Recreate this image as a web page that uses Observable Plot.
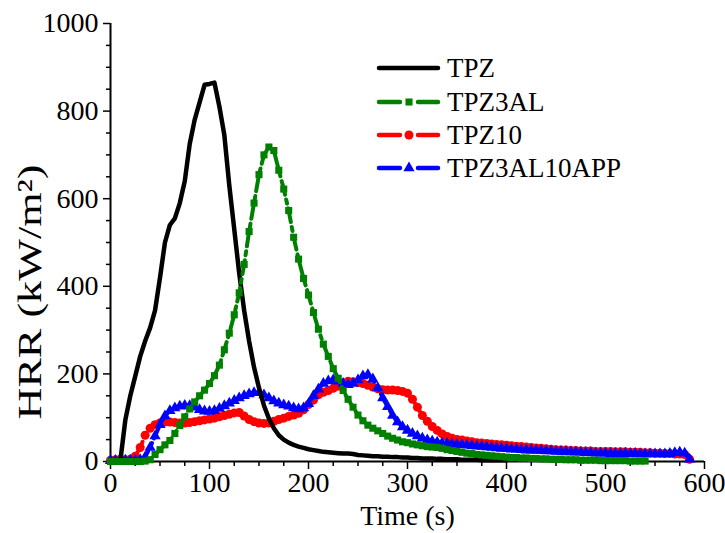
<!DOCTYPE html>
<html><head><meta charset="utf-8">
<script src="https://cdn.jsdelivr.net/npm/d3@7"></script>
<script src="https://cdn.jsdelivr.net/npm/@observablehq/plot@0.6"></script>
<style>body{margin:0;background:#fff}</style>
</head><body><div id="chart"></div>
<script>
const time = [0,5,10,15,20,25,30,35,40,45,50,55,60,65,70,75,80,85,90,95,
100,105,110,115,120,125,130,135,140,145,150,155,160,165,170,175,180,185,190,195,
200,205,210,215,220,225,230,235,240,245,250,255,260,265,270,275,280,285,290,295,
300,305,310,315,320,325,330,335,340,345,350,355,360,365,370,375,380,385,390,395,
400,405,410,415,420,425,430,435,440,445,450,455,460,465,470,475,480,485,490,495,
500,505,510,515,520,525,530,535,540,545,550,555,560,565,570,575,580,585,590];

const TPZ = [0,0,3,95,150,195,240,275,305,345,420,500,540,555,590,640,725,780,820,860,
862,865,810,745,630,530,430,345,275,215,168,128,98,76,60,50,43,38,34,31,
28,26,24,22,21,20,19,18,18,17,15,14,13,12,12,11,11,10,10,9,
9,8,8,7,7,7,6,6,5,5,5,4,4,4,4,3,3,3,3,3,3];

const TPZ3AL = [0,0,0,0,0,0,0,1,4,16,27,38,48,64,82,102,120,136,150,163,
178,196,220,255,293,335,385,450,525,590,655,700,718,710,665,622,573,512,462,418,
380,340,302,268,240,212,190,162,142,124,106,93,83,76,70,64,58,53,49,45,
43,40,38,36,34,33,32,30,27,25,23,21,19,18,16,15,14,13,12,11,
10,9,9,8,8,7,7,6,6,5,5,5,4,4,4,3,3,3,3,2,
2,2,2,2,2,1,1,1,1];

const TPZ10 = [3,4,5,4,5,12,32,60,76,84,88,90,90,89,88,88,89,91,93,95,
97,99,102,105,108,111,112,104,96,91,88,87,88,92,96,99,103,106,110,118,
130,140,152,158,162,167,172,180,183,182,180,178,174,170,166,164,163,163,162,160,
156,142,124,105,92,80,71,63,57,53,50,49,47,45,43,42,41,40,39,38,
37,36,35,34,33,32,31,30,29,28,27,26,26,25,25,24,24,24,23,23,
23,23,22,22,22,21,21,21,20,20,19,19,18,18,17,17,16,5];

const TPZ3AL10APP = [2,2,2,3,3,3,4,10,32,58,84,104,116,122,126,128,127,124,118,115,
114,116,121,127,133,139,145,150,154,157,157,152,145,138,133,129,126,122,120,122,
132,150,165,178,184,186,183,178,175,178,186,195,198,188,168,145,125,105,90,79,
71,64,58,53,49,46,44,42,41,40,39,38,37,36,35,34,33,32,31,30,
29,28,28,27,26,26,25,25,24,24,23,23,22,22,21,21,20,20,19,19,
19,18,18,18,18,18,18,17,17,17,17,17,17,18,20,21,19,5];

const xMajor = [0,100,200,300,400,500,600];
const xMinor = [25,50,75,125,150,175,225,250,275,325,350,375,425,450,475,525,550,575];
const yMajor = [0,200,400,600,800,1000];
const yMinor = [50,100,150,250,300,350,450,500,550,650,700,750,850,900,950];

const names = ["TPZ","TPZ3AL","TPZ10","TPZ3AL10APP"];
const colors = ["#000000","#008000","#ff0000","#0000ff"];
const yTitle = "HRR (kW/m²)";

const rows = vals => vals.map((v, i) => ({t: time[i], v}));
const dTPZ = rows(TPZ), dAL = rows(TPZ3AL), dT10 = rows(TPZ10), dAPP = rows(TPZ3AL10APP);
const dash = "14,5,4,5";
const serif = "'Liberation Serif', 'Times New Roman', serif";

const chart = Plot.plot({
  width: 725, height: 533,
  marginLeft: 110, marginRight: 21, marginTop: 23, marginBottom: 72,
  style: {fontFamily: serif, fontSize: "28px", background: "white", color: "black"},
  x: {domain: [0, 600]},
  y: {domain: [0, 1000]},
  marks: [
    Plot.axisX({ticks: xMinor, tickSize: 5, text: null, label: null, strokeWidth: 1.5}),
    Plot.axisX({ticks: xMajor, tickSize: 8, tickPadding: 3, tickFormat: d => String(d), fontSize: 28,
      label: "Time (s)", labelAnchor: "center", labelArrow: "none", labelOffset: 63, strokeWidth: 1.5}),
    Plot.axisY({ticks: yMinor, tickSize: 4, text: null, label: null, strokeWidth: 1.5}),
    Plot.axisY({ticks: yMajor, tickSize: 7, tickPadding: 5, tickFormat: d => String(d), fontSize: 28,
      label: null, strokeWidth: 1.5}),
    Plot.ruleX([0], {strokeWidth: 2}),
    Plot.ruleY([0], {strokeWidth: 2}),
    Plot.line(dT10, {x: "t", y: "v", stroke: colors[2], strokeWidth: 4, strokeDasharray: dash}),
    Plot.dot(dT10, {x: "t", y: "v", fill: colors[2], r: 4.5, symbol: "circle"}),
    Plot.line(dAPP, {x: "t", y: "v", stroke: colors[3], strokeWidth: 4, strokeDasharray: dash}),
    Plot.dot(dAPP, {x: "t", y: "v", fill: colors[3], r: 4.2, symbol: "triangle"}),
    Plot.line(dTPZ, {x: "t", y: "v", stroke: colors[0], strokeWidth: 4.5}),
    Plot.line(dAL, {x: "t", y: "v", stroke: colors[1], strokeWidth: 4, strokeDasharray: dash}),
    Plot.dot(dAL, {x: "t", y: "v", fill: colors[1], r: 4, symbol: "square"})
  ]
});

const svg = d3.select(chart);

// Y-axis title
svg.append("text")
  .attr("transform", "translate(41,292) rotate(-90)")
  .attr("text-anchor", "middle")
  .attr("font-family", serif).attr("font-size", 33)
  .attr("textLength", 255).attr("lengthAdjust", "spacingAndGlyphs")
  .attr("fill", "black")
  .text(yTitle);

// Legend
const lg = svg.append("g").attr("font-family", serif).attr("font-size", 27).attr("text-anchor", "start");
const rowY = [68, 102, 135, 168];
const syms = [null, d3.symbolSquare, d3.symbolCircle, d3.symbolTriangle];
const symSize = [0, 50, 64, 55];
names.forEach((n, i) => {
  const y = rowY[i];
  if (i === 0) {
    lg.append("line").attr("x1", 379).attr("x2", 438).attr("y1", y).attr("y2", y)
      .attr("stroke", colors[i]).attr("stroke-width", 4.5).attr("stroke-linecap", "round");
  } else {
    lg.append("line").attr("x1", 379).attr("x2", 400).attr("y1", y).attr("y2", y)
      .attr("stroke", colors[i]).attr("stroke-width", 4.5).attr("stroke-linecap", "round");
    lg.append("line").attr("x1", 418).attr("x2", 438).attr("y1", y).attr("y2", y)
      .attr("stroke", colors[i]).attr("stroke-width", 4.5).attr("stroke-linecap", "round");
    lg.append("path").attr("d", d3.symbol(syms[i], symSize[i])()).attr("transform", `translate(409,${y})`)
      .attr("fill", colors[i]);
  }
  lg.append("text").attr("x", 447).attr("y", y).attr("dy", "0.35em").attr("fill", "black").text(n);
});

document.getElementById("chart").appendChild(chart);
</script>
</body></html>
